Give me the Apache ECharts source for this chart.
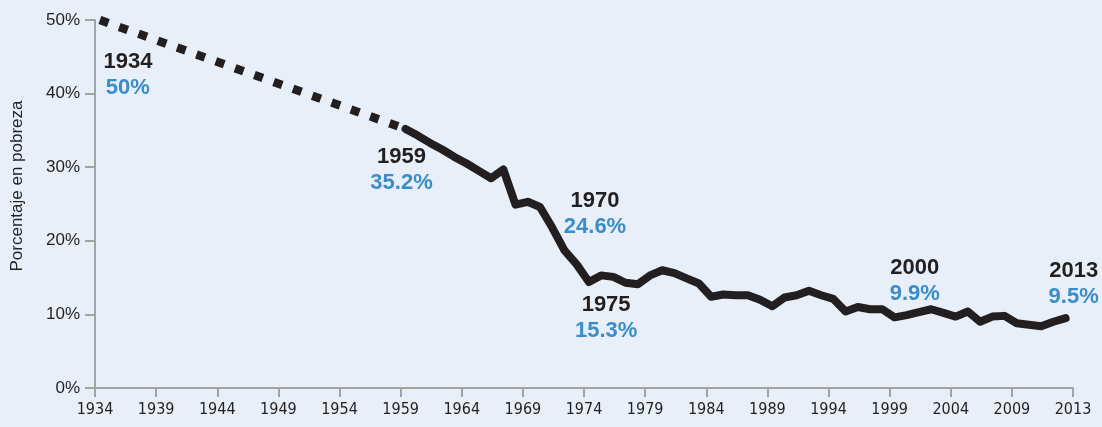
<!DOCTYPE html>
<html>
<head>
<meta charset="utf-8">
<title>Porcentaje en pobreza</title>
<script src="https://cdn.jsdelivr.net/npm/echarts@6/dist/echarts.min.js"></script>
<style>
  html, body { margin: 0; padding: 0; background: #e8eff8; }
  #main { width: 1102px; height: 427px; }
</style>
</head>
<body>
<div id="main"></div>
<script>
// años de la serie continua (1959-2013)
var years = [1959, 1960, 1961, 1962, 1963, 1964, 1965, 1966, 1967, 1968,
  1969, 1970, 1971, 1972, 1973, 1974, 1975, 1976, 1977, 1978,
  1979, 1980, 1981, 1982, 1983, 1984, 1985, 1986, 1987, 1988,
  1989, 1990, 1991, 1992, 1993, 1994, 1995, 1996, 1997, 1998,
  1999, 2000, 2001, 2002, 2003, 2004, 2005, 2006, 2007, 2008,
  2009, 2010, 2011, 2012, 2013];
// porcentaje en pobreza
var rate = [35.2, 34.3, 33.3, 32.4, 31.4, 30.5, 29.5, 28.5, 29.7, 24.9,
  25.3, 24.6, 21.8, 18.7, 16.8, 14.4, 15.3, 15.1, 14.3, 14.1,
  15.3, 16.0, 15.6, 14.9, 14.2, 12.4, 12.7, 12.6, 12.6, 12.0,
  11.1, 12.3, 12.6, 13.2, 12.6, 12.1, 10.4, 11.0, 10.7, 10.7,
  9.6, 9.9, 10.3, 10.7, 10.2, 9.7, 10.4, 9.0, 9.7, 9.8,
  8.8, 8.6, 8.4, 9.0, 9.5];
// tramo punteado 1934-1959
var dashYears = [1934, 1959];
var dashRate = [50, 35.2];
// anotaciones
var noteYears = [1934, 1959, 1970, 1975, 2000, 2013];
var noteRate = [50, 35.2, 24.6, 15.3, 9.9, 9.5];
// etiquetas del eje x
var xTickLabels = ['1934', '1939', '1944', '1949', '1954', '1959', '1964', '1969',
  '1974', '1979', '1984', '1989', '1994', '1999', '2004', '2009', '2013'];
var yTicks = [0, 10, 20, 30, 40, 50];

// desplazamiento de cada etiqueta respecto a su punto (px)
var noteOffsets = [[28, 55], [-4, 41], [55, 7], [5, 43], [8, -34], [8, -34]];

var ink = '#231f20';
var blue = '#3a8dc8';
var axisGray = '#a3a3a3';
var font = '"Liberation Sans", Arial, sans-serif';

var solidData = [];
for (var i = 0; i < years.length; i++) solidData.push([years[i], rate[i]]);
var dashData = [];
for (var i = 0; i < dashYears.length; i++) dashData.push([dashYears[i], dashRate[i]]);
var noteData = [];
for (var i = 0; i < noteYears.length; i++) {
  noteData.push({
    value: [noteYears[i], noteRate[i]],
    label: { offset: noteOffsets[i] }
  });
}

var myChart = echarts.init(document.getElementById('main'));
var option = {
  backgroundColor: '#e8eff8',
  animation: false,
  grid: { left: 95, right: 29, top: 20, bottom: 39, outerBoundsMode: 'none' },
  graphic: [{
    type: 'text',
    x: 17, y: 186,
    rotation: Math.PI / 2,
    style: {
      text: 'Porcentaje en pobreza',
      font: '17px ' + font,
      fill: ink,
      align: 'center',
      verticalAlign: 'middle'
    }
  }],
  xAxis: [
    {
      // eje visible: marcas cada 5 años
      type: 'value',
      min: 1934, max: 2014, interval: 5,
      splitLine: { show: false },
      axisLine: { show: true, onZero: false, lineStyle: { color: axisGray, width: 2 } },
      axisTick: { show: true, length: 9, lineStyle: { color: axisGray, width: 2 } },
      axisLabel: {
        margin: 14,
        color: ink,
        fontSize: 16,
        fontFamily: '"Liberation Sans Narrow", "DejaVu Sans Condensed", "Liberation Sans", sans-serif',
        showMinLabel: true, showMaxLabel: true,
        formatter: function (v) { return xTickLabels[Math.round((v - 1934) / 5)] || ''; }
      }
    },
    {
      // eje de datos (oculto)
      type: 'value',
      min: 1933.6, max: 2013.6,
      show: false
    }
  ],
  yAxis: {
    type: 'value',
    min: yTicks[0], max: yTicks[yTicks.length - 1], interval: 10,
    splitLine: { show: false },
    axisLine: { show: true, onZero: false, lineStyle: { color: axisGray, width: 2 } },
    axisTick: { show: true, length: 10, lineStyle: { color: axisGray, width: 2 } },
    axisLabel: {
      margin: 15,
      color: ink,
      fontSize: 17,
      fontFamily: font,
      formatter: '{value}%'
    }
  },
  series: [
    {
      type: 'line',
      xAxisIndex: 1,
      data: dashData,
      showSymbol: false,
      lineStyle: { color: ink, width: 8.5, type: [9, 11.5], cap: 'butt' }
    },
    {
      type: 'line',
      xAxisIndex: 1,
      data: solidData,
      showSymbol: false,
      lineStyle: { color: ink, width: 8, cap: 'round', join: 'round' }
    },
    {
      type: 'scatter',
      xAxisIndex: 1,
      data: noteData,
      symbolSize: 1,
      itemStyle: { color: 'rgba(0,0,0,0)', opacity: 1 },
      label: {
        show: true,
        opacity: 1,
        position: 'inside',
        align: 'center',
        verticalAlign: 'middle',
        formatter: function (p) {
          return '{a|' + p.value[0] + '}\n{b|' + p.value[1] + '%}';
        },
        rich: {
          a: { fontSize: 22, fontWeight: 'bold', color: ink, fontFamily: font, lineHeight: 26, align: 'center' },
          b: { fontSize: 22, fontWeight: 'bold', color: blue, fontFamily: font, lineHeight: 26, align: 'center' }
        }
      }
    }
  ]
};
myChart.setOption(option);
</script>
</body>
</html>
